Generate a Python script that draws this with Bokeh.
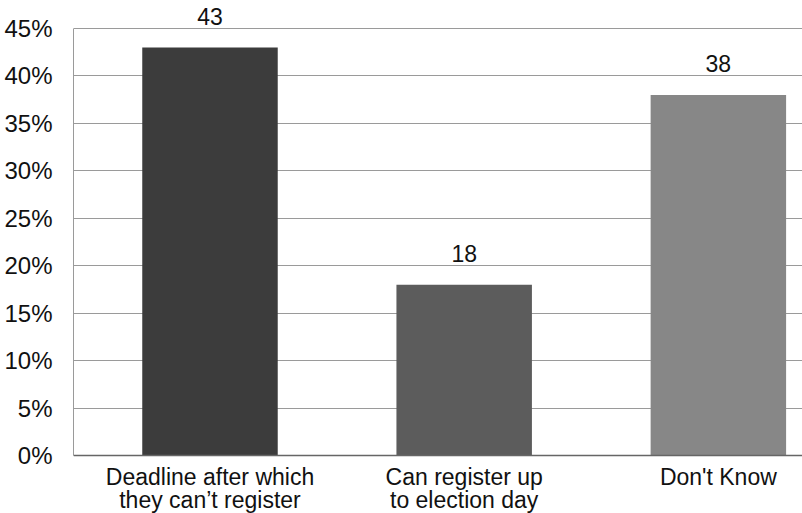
from bokeh.plotting import figure
from bokeh.models import Range1d, FixedTicker, PrintfTickFormatter, ColumnDataSource, Span
from bokeh.core.properties import value
from bokeh.embed import file_html
from bokeh.resources import INLINE

categories = ["Deadline after which\nthey can\u2019t register", "Can register up\nto election day", "Don't Know"]
values = [43, 18, 38]
colors = ["#3c3c3c", "#5c5c5c", "#878787"]
y_ticks = [0, 5, 10, 15, 20, 25, 30, 35, 40, 45]

FONT = "Liberation Sans"
xs = list(range(len(categories)))
zeros = [0] * len(categories)
src = ColumnDataSource(dict(x=xs, top=values, zero=zeros, color=colors, cat=categories,
                            label=[str(v) for v in values]))

p = figure(width=802, height=513, output_backend="svg", toolbar_location=None,
           x_range=Range1d(-0.537, 2.331), y_range=Range1d(-6.11, 47.95),
           min_border_left=73, min_border_top=0, min_border_right=0, min_border_bottom=0)
p.outline_line_color = None
p.background_fill_color = "white"
p.border_fill_color = "white"

p.xgrid.grid_line_color = None
p.ygrid.grid_line_color = "#9a9a9a"
p.ygrid.grid_line_width = 1
p.ygrid.ticker = FixedTicker(ticks=y_ticks)

p.vbar(x="x", top="top", width=0.533, bottom=0, color="color", line_color=None, source=src)
p.add_layout(Span(location=0, dimension="width", line_color="#666666", line_width=1.3))

p.text(x="x", y="top", text="label", source=src, text_align="center", text_baseline="alphabetic",
       y_offset=-31, text_font=value(FONT), text_font_size="23px", text_color="#111111")
p.text(x="x", y="zero", text="cat", source=src, text_align="center", text_baseline="top",
       y_offset=8, text_font=value(FONT), text_font_size="23px", text_color="#111111",
       text_line_height=0.9)

p.yaxis.ticker = FixedTicker(ticks=y_ticks)
p.yaxis.bounds = (0, 45)
p.yaxis.formatter = PrintfTickFormatter(format="%d%%")
p.yaxis.axis_line_color = "#9a9a9a"
p.yaxis.major_tick_line_color = None
p.yaxis.minor_tick_line_color = None
p.yaxis.major_label_standoff = 15
p.yaxis.major_label_text_font = FONT
p.yaxis.major_label_text_font_size = "24px"
p.yaxis.major_label_text_color = "#111111"

p.xaxis.visible = False

open("out.html", "w").write(file_html(p, INLINE))
